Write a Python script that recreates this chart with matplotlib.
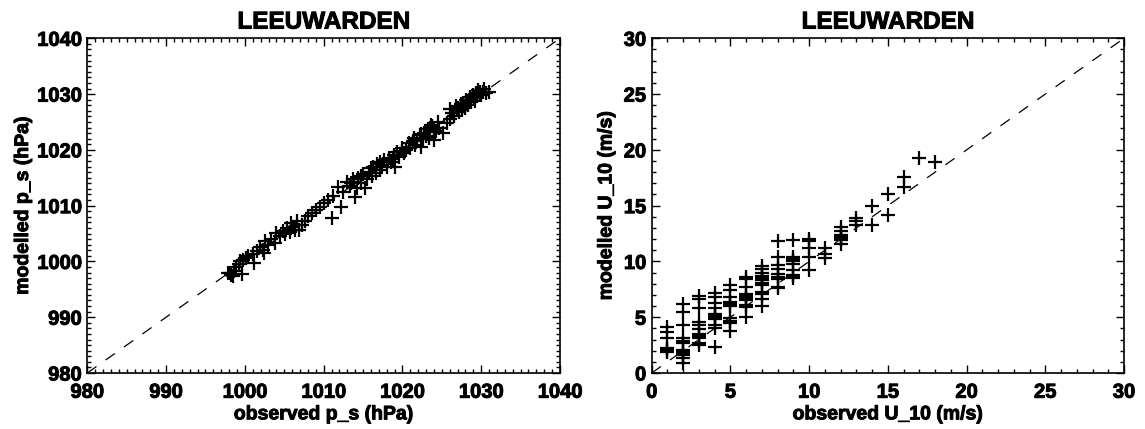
import matplotlib
matplotlib.use("Agg")
import matplotlib.pyplot as plt
import matplotlib.patheffects as pe
from matplotlib.ticker import MultipleLocator

plt.rcParams['font.family'] = ['Liberation Sans', 'DejaVu Sans']
plt.rcParams['font.weight'] = 'bold'

# ---------------- data ----------------
station = "LEEUWARDEN"

ps_obs = [997.8, 998.1, 998.3, 998.5, 998.6, 998.9, 999.2, 999.4, 999.6, 999.8,
          1000.1, 1000.4, 1001.2, 1001.0, 1001.5, 1001.9, 1002.3, 1002.4, 1002.6, 1002.9,
          1003.3, 1003.8, 1004.0, 1004.5, 1004.9, 1005.1, 1005.4, 1005.7, 1005.9, 1006.1,
          1006.4, 1006.6, 1006.9, 1007.3, 1007.6, 1008.0, 1008.5, 1009.0, 1009.5, 1010.1,
          1010.6, 1011.0, 1011.2, 1011.8, 1012.2, 1012.5, 1013.0, 1013.4, 1013.7, 1013.9,
          1014.0, 1014.2, 1014.4, 1014.7, 1015.0, 1015.3, 1015.5, 1015.8, 1016.1, 1016.3,
          1016.6, 1016.8, 1017.1, 1017.4, 1017.7, 1018.0, 1018.3, 1018.6, 1018.9, 1019.1,
          1019.3, 1019.6, 1019.9, 1020.2, 1020.5, 1020.8, 1021.0, 1021.3, 1021.6, 1021.9,
          1022.2, 1022.3, 1022.6, 1022.8, 1023.0, 1023.2, 1023.4, 1023.6, 1023.8, 1024.0,
          1024.2, 1024.0, 1024.7, 1025.2, 1025.6, 1026.0, 1026.1, 1026.3, 1026.6, 1026.8,
          1027.0, 1027.2, 1027.4, 1027.6, 1027.7, 1027.9, 1028.1, 1028.3, 1028.5, 1028.7,
          1028.9, 1029.1, 1029.3, 1029.5, 1029.6, 1029.8, 1029.9, 1030.2, 1030.4, 1030.6,
          1031.0, 1013.5, 1014.8, 1016.0, 1017.2, 1018.8, 1020.0, 1021.5, 1022.4, 1023.5,
          1024.5, 1026.9, 1027.5, 1028.0, 1028.6, 1029.2, 1030.0]
ps_mod = [997.9, 998.0, 997.6, 997.4, 998.2, 999.0, 999.6, 1000.1, 997.7, 1000.3,
          1000.6, 1000.9, 999.7, 1001.3, 1001.9, 1002.5, 1002.0, 1001.5, 1003.6, 1003.0,
          1004.0, 1003.3, 1005.1, 1004.6, 1005.5, 1004.9, 1006.0, 1005.3, 1006.9, 1006.2,
          1005.6, 1007.2, 1005.7, 1006.6, 1007.2, 1008.1, 1008.6, 1009.2, 1009.8, 1010.4,
          1011.0, 1007.8, 1011.7, 1013.4, 1009.7, 1012.4, 1014.3, 1013.6, 1014.8, 1014.3,
          1011.6, 1013.2, 1015.0, 1014.1, 1015.6, 1013.1, 1014.7, 1016.1, 1015.4, 1016.9,
          1015.8, 1017.5, 1016.4, 1017.3, 1018.1, 1016.9, 1018.5, 1017.8, 1019.1, 1017.0,
          1019.6, 1018.7, 1020.3, 1019.4, 1020.0, 1021.2, 1020.3, 1021.6, 1020.9, 1021.8,
          1022.6, 1020.6, 1021.9, 1023.0, 1022.4, 1023.7, 1022.1, 1024.5, 1024.2, 1023.5,
          1023.3, 1021.8, 1024.0, 1023.0, 1024.8, 1025.6, 1027.3, 1026.6, 1026.0, 1027.8,
          1027.5, 1026.8, 1028.2, 1027.1, 1028.4, 1027.7, 1028.9, 1028.0, 1029.0, 1028.5,
          1029.9, 1029.3, 1030.2, 1029.6, 1030.7, 1030.3, 1030.1, 1030.4, 1030.9, 1030.2,
          1030.3, 1014.0, 1015.3, 1016.7, 1017.9, 1018.3, 1019.8, 1022.1, 1022.9, 1023.9,
          1025.0, 1027.1, 1027.9, 1027.5, 1029.4, 1028.8, 1029.8]

u_obs = ([1] * 7 + [2] * 12 + [3] * 11 + [4] * 11 + [5] * 10 + [6] * 10 + [7] * 12 +
         [8] * 9 + [9] * 9 + [10] * 5 + [11] * 3 + [12] * 7 + [13] * 3 + [14] * 2 +
         [15] * 2 + [16] * 2 + [17] + [18])
u_mod = [4.1, 3.7, 3.1, 2.1, 2.0, 1.9, 2.2,
         6.2, 5.5, 4.3, 3.1, 2.9, 2.7, 2.1, 1.9, 1.7, 1.6, 1.3, 0.9,
         6.9, 6.6, 5.8, 4.6, 4.3, 3.9, 3.5, 3.3, 3.1, 2.7, 2.5,
         7.2, 6.8, 6.3, 5.8, 5.3, 5.1, 5.0, 4.8, 4.3, 4.0, 2.3,
         7.9, 7.4, 6.8, 6.4, 6.2, 6.0, 4.9, 4.7, 4.5, 3.8,
         8.6, 8.4, 7.7, 7.1, 6.9, 6.7, 6.5, 6.1, 5.9, 5.0,
         9.6, 9.3, 9.0, 8.7, 8.5, 8.3, 8.1, 7.9, 7.3, 7.1, 6.6, 6.0,
         11.8, 10.4, 9.7, 9.3, 8.9, 8.6, 8.4, 7.7, 7.6,
         11.9, 10.4, 10.2, 10.0, 9.8, 9.2, 8.8, 8.7, 8.5,
         12.0, 11.8, 11.2, 10.4, 9.2,
         11.2, 10.7, 10.3,
         13.1, 12.7, 12.4, 12.2, 12.0, 11.9, 11.6,
         13.9, 13.6, 13.3,
         15.0, 13.3,
         16.0, 14.2,
         17.6, 16.7,
         19.3,
         18.9]

ps_range = (980, 1040)
u_range = (0, 30)

# ---------------- figure ----------------
W, H = 1145, 429
fig = plt.figure(figsize=(W / 100, H / 100), dpi=100)

def px_axes(l, r, t, b):
    return fig.add_axes([l / W, (H - b) / H, (r - l) / W, (b - t) / H])

ax1 = px_axes(87.3, 560, 38.3, 373)
ax2 = px_axes(651.7, 1124, 38.3, 373)

heavy = [pe.withStroke(linewidth=0.7, foreground='black')]

panels = [
    (ax1, ps_obs, ps_mod, ps_range, 10, 1, "observed p_s (hPa)", "modelled p_s (hPa)", -0.135),
    (ax2, u_obs, u_mod, u_range, 5, 1, "observed U_10 (m/s)", "modelled U_10 (m/s)", -0.095),
]

for ax, xo, ym, rng, major, minor, xl, yl, ylx in panels:
    ax.plot(rng, rng, color='black', lw=0.9, dashes=(9, 9))
    ax.plot(xo, ym, '+', color='black', ms=9.5, mew=1.6)
    ax.set_xlim(rng)
    ax.set_ylim(rng)
    ax.xaxis.set_major_locator(MultipleLocator(major))
    ax.yaxis.set_major_locator(MultipleLocator(major))
    ax.xaxis.set_minor_locator(MultipleLocator(minor))
    ax.yaxis.set_minor_locator(MultipleLocator(minor))
    ax.tick_params(which='both', direction='in', top=True, right=True, width=1.0, color='black')
    ax.tick_params(which='major', length=6)
    ax.tick_params(which='minor', length=3)
    ax.tick_params(axis='x', which='major', pad=7, labelsize=14.5)
    ax.tick_params(axis='y', which='major', pad=4, labelsize=14.5)
    for s in ax.spines.values():
        s.set_linewidth(1.2)
    ax.set_title(station, fontsize=17.5, fontweight='bold', pad=7, path_effects=heavy)
    ax.set_xlabel(xl, fontsize=14, fontweight='bold', va='center', path_effects=heavy)
    ax.xaxis.set_label_coords(0.5, -0.125)
    ax.set_ylabel(yl, fontsize=14, fontweight='bold', va='center', path_effects=heavy)
    ax.yaxis.set_label_coords(ylx, 0.5)

fig.canvas.draw()
for ax in (ax1, ax2):
    for lab in ax.get_xticklabels() + ax.get_yticklabels():
        lab.set_path_effects(heavy)
    labs = ax.get_yticklabels()
    labs[0].set_va('baseline')
    labs[-1].set_va('top')

fig.savefig("out.png", dpi=100)
